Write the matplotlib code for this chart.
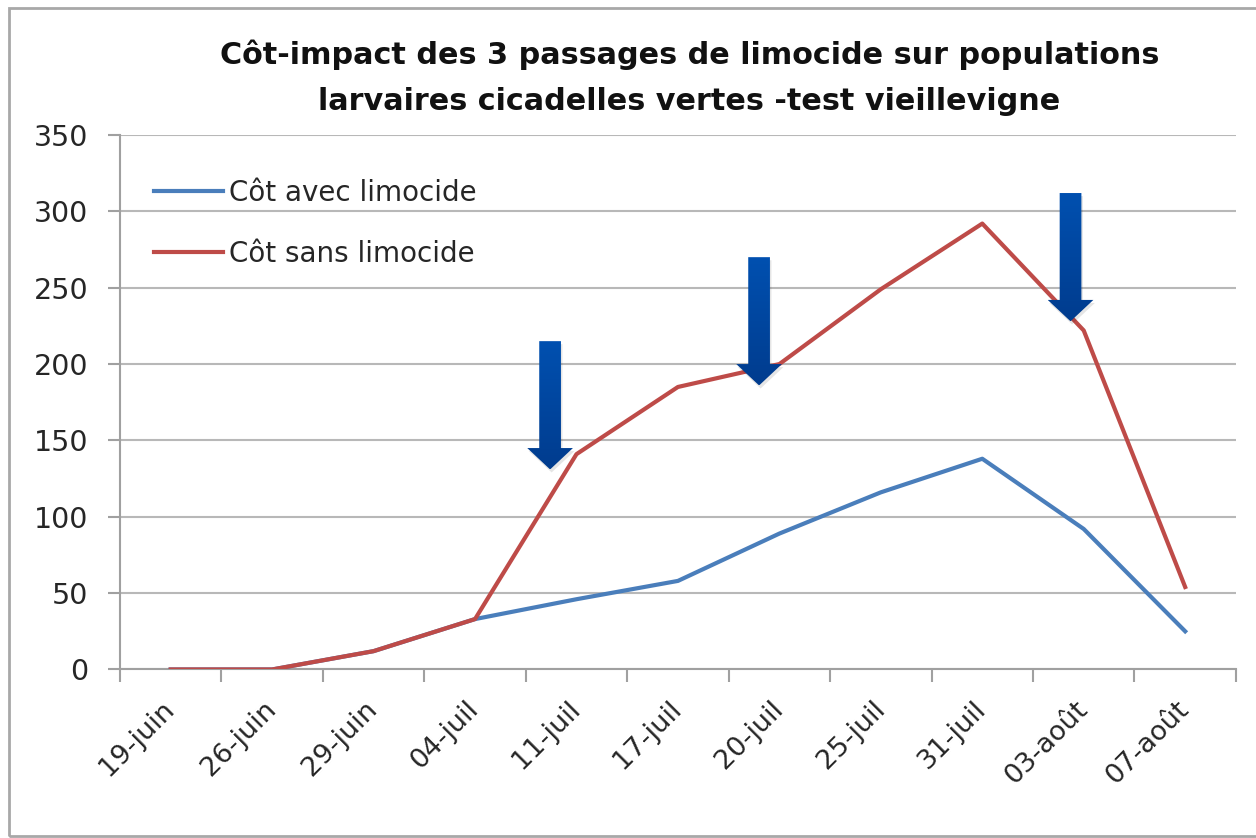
import matplotlib.pyplot as plt
import numpy as np
from matplotlib.patches import Polygon, Rectangle
from matplotlib.colors import LinearSegmentedColormap

dates = ['19-juin', '26-juin', '29-juin', '04-juil', '11-juil', '17-juil',
         '20-juil', '25-juil', '31-juil', '03-août', '07-août']
avec_limocide = [0, 0, 12, 33, 46, 58, 89, 116, 138, 92, 25]
sans_limocide = [0, 0, 12, 33, 141, 185, 200, 249, 292, 222, 54]

# arrows marking the 3 limocide passages: (x, tip y, top y)
passages = [(3.74, 131, 215), (5.80, 186, 270), (8.87, 228, 312)]

plt.rcParams['font.family'] = ['DejaVu Sans']

fig = plt.figure(figsize=(12.56, 8.38), dpi=100)
ax = fig.add_axes([0.0955, 0.2011, 0.8885, 0.6378])

x = np.arange(len(dates))
ax.plot(x, avec_limocide, color='#4A7EBB', lw=3, label='Côt avec limocide',
        solid_joinstyle='round', zorder=3)
ax.plot(x, sans_limocide, color='#BE4B48', lw=3, label='Côt sans limocide',
        solid_joinstyle='round', zorder=3)

ax.set_xlim(-0.5, len(dates) - 0.5)
ax.set_ylim(0, 350)
ax.set_yticks(np.arange(0, 351, 50))
ax.grid(axis='y', color='#b8b8b8', lw=1.5)
ax.set_axisbelow(True)

# tick marks between categories, labels at category centres
ax.set_xticks(np.arange(-0.5, len(dates), 1))
ax.set_xticklabels([])
ax.set_xticks(x, minor=True)
ax.set_xticklabels(dates, minor=True, rotation=45, ha='right', va='center',
                   rotation_mode='anchor', fontsize=19.5, color='#262626')
ax.tick_params(axis='x', which='minor', length=0, pad=26)
ax.tick_params(axis='x', which='major', length=9, width=1.5, color='#a0a0a0')
ax.tick_params(axis='y', length=9, width=1.5, color='#a0a0a0', pad=14,
               labelsize=20.5, labelcolor='#262626')

for s in ['top', 'right']:
    ax.spines[s].set_visible(False)
for s in ['left', 'bottom']:
    ax.spines[s].set_color('#a0a0a0')
    ax.spines[s].set_linewidth(1.5)

# gradient arrows
grad = np.linspace(0, 1, 100).reshape(-1, 1)
cmap = LinearSegmentedColormap.from_list('arr', ['#003C8E', '#0050B0'])
for ax_x, tip, top in passages:
    hw, sw, hl = 0.225, 0.107, 14
    pts = [(ax_x - sw, top), (ax_x + sw, top), (ax_x + sw, tip + hl),
           (ax_x + hw, tip + hl), (ax_x, tip), (ax_x - hw, tip + hl),
           (ax_x - sw, tip + hl)]
    shadow = Polygon([(px + 0.015, py - 2) for px, py in pts], closed=True,
                     fc='#000000', alpha=0.1, ec='none', zorder=4)
    ax.add_patch(shadow)
    poly = Polygon(pts, closed=True, fc='none', ec='none', zorder=5)
    ax.add_patch(poly)
    im = ax.imshow(grad, extent=(ax_x - hw, ax_x + hw, tip, top), origin='lower',
                   cmap=cmap, aspect='auto', zorder=5)
    im.set_clip_path(poly)
ax.set_xlim(-0.5, len(dates) - 0.5)
ax.set_ylim(0, 350)

leg = ax.legend(loc='upper left', bbox_to_anchor=(0.008, 0.965), frameon=False,
                fontsize=20, handlelength=2.5, labelspacing=1.19,
                handletextpad=0.2)
for t in leg.get_texts():
    t.set_color('#262626')

fig.text(0.549, 0.935, 'Côt-impact des 3 passages de limocide sur populations',
         ha='center', va='center', fontsize=21.8, fontweight='bold', color='#111111')
fig.text(0.549, 0.879, 'larvaires cicadelles vertes -test vieillevigne',
         ha='center', va='center', fontsize=21.8, fontweight='bold', color='#111111')

fig.patches.append(Rectangle((9 / 1256, 2 / 838), 1.2, 1 - 10 / 838,
                             transform=fig.transFigure, fill=False,
                             ec='#a8a8a8', lw=2))

fig.savefig('out.png', dpi=100)
